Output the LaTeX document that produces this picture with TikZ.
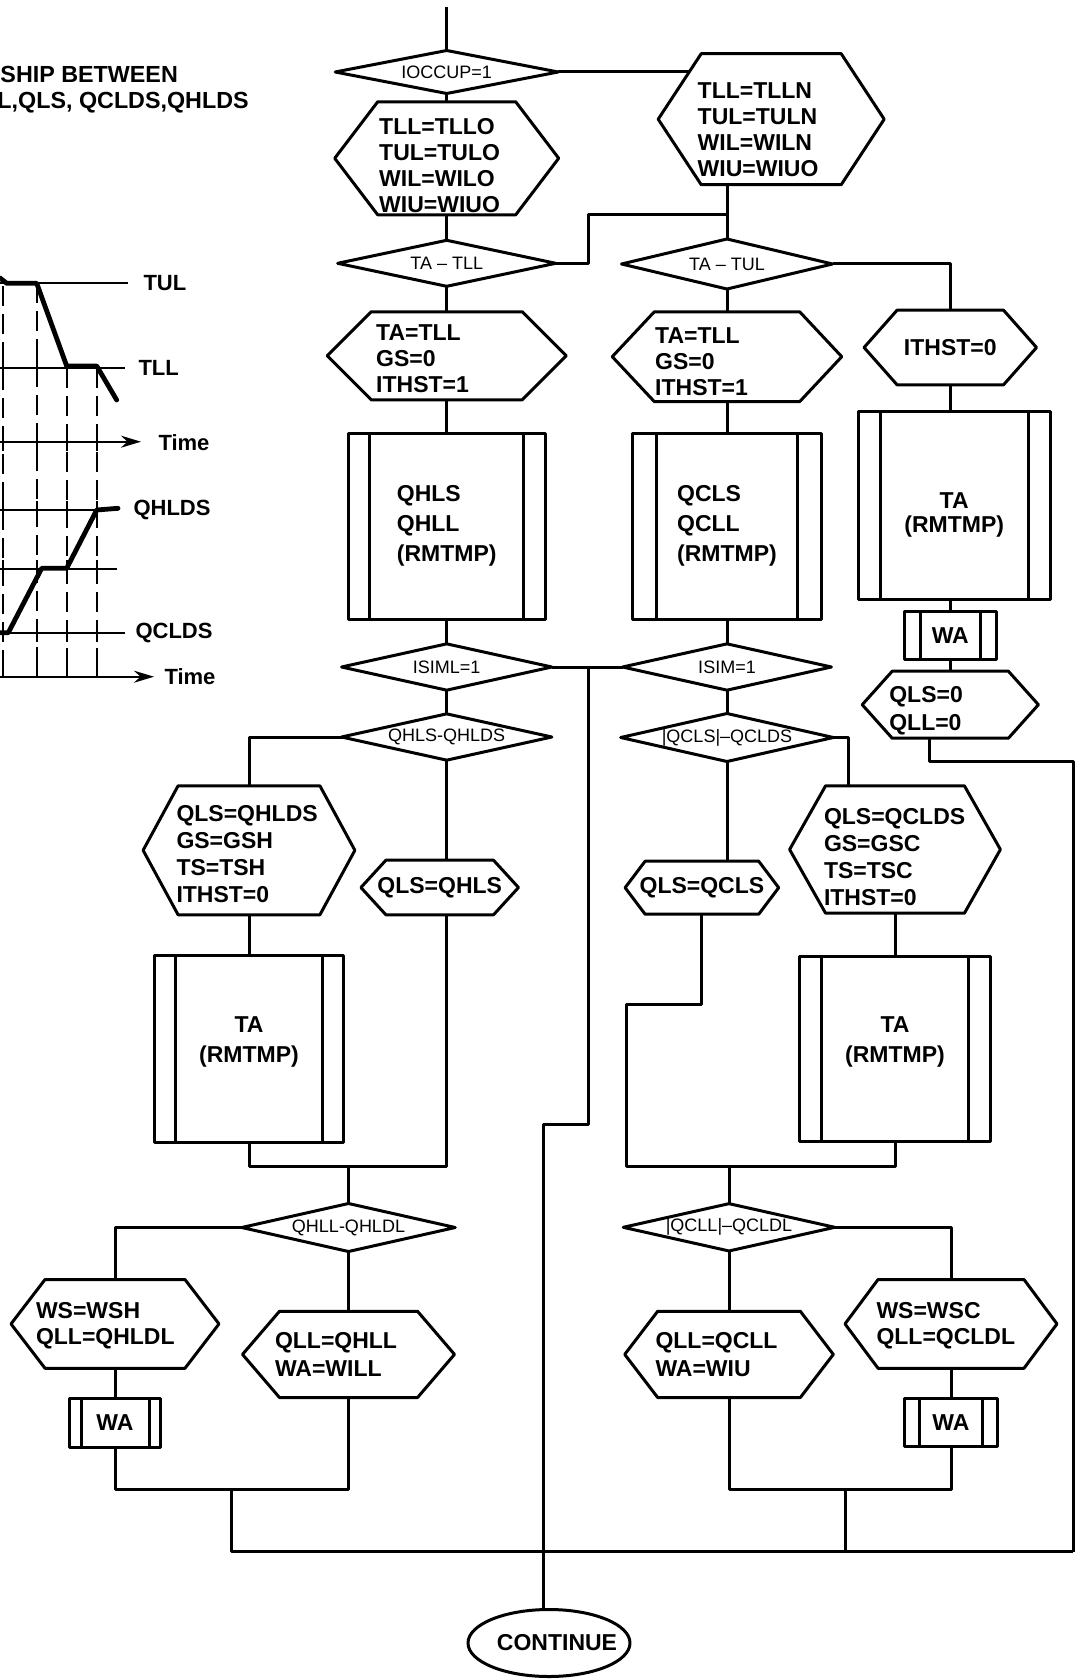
\documentclass[tikz,border=0pt]{standalone}
\usepackage{fontspec}
\setmainfont{Liberation Sans}
\usetikzlibrary{shapes.geometric,arrows.meta,calc}

% outlines drawn round invisible rectangle nodes
\newcommand{\hexline}[2]{%
  \draw (#1.west) -- ([xshift=#2pt]#1.north west) -- ([xshift=-#2pt]#1.north east)
    -- (#1.east) -- ([xshift=-#2pt]#1.south east) -- ([xshift=#2pt]#1.south west) -- cycle;}
\newcommand{\diamline}[1]{%
  \draw (#1.west) -- (#1.north) -- (#1.east) -- (#1.south) -- cycle;}
\newcommand{\subline}[2]{%
  \draw ([xshift=#2pt]#1.north west) -- ([xshift=#2pt]#1.south west);
  \draw ([xshift=-#2pt]#1.north east) -- ([xshift=-#2pt]#1.south east);}
% struts to move a text block down or up in its box
\newcommand{\hdrop}[1]{\rule{0pt}{\dimexpr16.5pt+#1pt+#1pt\relax}}
\newcommand{\hlift}[1]{\rule[\dimexpr-4.8pt-#1pt-#1pt\relax]{0pt}{0pt}}

\begin{document}
\begin{tikzpicture}[x=1pt,y=-1pt,line width=3pt,line join=round,
  hexa/.style={rectangle,inner sep=0pt,align=left,font=\fontsize{23}{26}\selectfont\bfseries},
  deci/.style={rectangle,inner sep=0pt,font=\fontsize{18}{20}\selectfont},
  subr/.style={draw,rectangle,inner sep=0pt,align=left,font=\fontsize{23}{30}\selectfont\bfseries},
  axlab/.style={anchor=west,inner sep=0pt,font=\fontsize{22}{24}\selectfont\bfseries},
  gthin/.style={line width=2.3pt},
  gthick/.style={line width=4.8pt,line cap=round},
  gdash/.style={line width=2.3pt,dash pattern=on 20pt off 8pt},
  gaxis/.style={line width=2.3pt,-{Stealth[length=20pt,width=12pt]}}]
\useasboundingbox (0,0) rectangle (1083,1680);

% title
\node[anchor=west,inner sep=0pt,font=\fontsize{23.3}{25}\selectfont\bfseries] (ttlA) at (-1,74) {SHIP BETWEEN};
\node[anchor=west,inner sep=0pt,font=\fontsize{23.3}{25}\selectfont\bfseries] (ttlB) at (-4,102.5) {L,QLS, QCLDS,QHLDS};

% graph
\draw[gthin] (0,283.3) -- (128,283.3);
\draw[gthin] (0,368) -- (125,368);
\draw[gaxis] (0,441.7) -- (141,441.7);
\draw[gthin] (0,510) -- (118,510);
\draw[gthin] (0,569) -- (117,569);
\draw[gthin] (0,632.7) -- (125,632.7);
\draw[gaxis] (0,676.7) -- (154,676.7);
\foreach \gx/\gtop in {3.3/286,36.7/283.3,66.7/368,96.7/368}
  \draw[gdash] (\gx,\gtop) -- (\gx,676.7);
\foreach \gx in {3.3,36.7,66.7,96.7}{
  \foreach \gy in {441.7,510,569,632.7}
    \draw[gthin] (\gx,\gy-9) -- (\gx,\gy+9);
  \draw[gthin] (\gx,656.7) -- (\gx,676.7);}
\foreach \gx in {3.3,36.7}
  \draw[gthin] (\gx,359) -- (\gx,377);
\draw[gthick] (0,278) -- (6.7,283.3) -- (36.7,283.3) -- (66.7,366) -- (96.7,366) -- (116.7,400);
\draw[gthick] (0,632.7) -- (8.3,632.7) -- (41.7,568.3) -- (66.7,568.3) -- (96.7,510) -- (118,508.3);
\node[axlab] (labTUL) at (142,283) {TUL};
\node[axlab] (labTLL) at (137,368) {TLL};
\node[axlab] (labTimeA) at (157,443) {Time};
\node[axlab] (labQH) at (132,510) {QHLDS};
\node[axlab] (labQC) at (134,633) {QCLDS};
\node[axlab] (labTimeB) at (163,677) {Time};

% occupancy and limits
\coordinate (start) at (446.7,6.7);
\node[deci,minimum width=220pt,minimum height=40pt] (dOcc) at (446.7,72) {IOCCUP=1};
\node[hexa,minimum width=221pt,minimum height=110pt,text width=135pt] (hOld) at (446.7,158.3) {\hdrop{7.5}TLL=TLLO\\TUL=TULO\\WIL=WILO\\WIU=WIUO};
\node[hexa,minimum width=223pt,minimum height=128pt,text width=147pt] (hNew) at (771.2,119.2) {\hdrop{10}TLL=TLLN\\TUL=TULN\\WIL=WILN\\WIU=WIUO};
\node[deci,minimum width=215pt,minimum height=43pt] (dLow) at (446.7,263.3) {TA -- TLL};
\node[deci,minimum width=208pt,minimum height=47pt] (dUp) at (727,264) {TA -- TUL};
\node[hexa,minimum width=236pt,minimum height=85pt,text width=141pt] (hLow) at (446.7,355.8) {\hdrop{3}TA=TLL\\GS=0\\ITHST=1};
\node[hexa,minimum width=226.5pt,minimum height=86.7pt,text width=143.6pt] (hMid) at (727,356.7) {\hdrop{4.5}TA=TLL\\GS=0\\ITHST=1};
\node[hexa,minimum width=169.5pt,minimum height=71.6pt,align=center] (hOff) at (950.3,347.5) {ITHST=0};

% room temperature calls
\node[subr,minimum width=197pt,minimum height=186pt] (bHeat) at (446.7,526.3) {QHLS\\QHLL\\(RMTMP)};
\node[subr,minimum width=188.3pt,minimum height=186pt] (bCool) at (727,526.3) {QCLS\\QCLL\\(RMTMP)};
\node[subr,minimum width=191.7pt,minimum height=187.6pt,align=center,font=\fontsize{23}{24}\selectfont\bfseries] (bFree) at (954.2,505.5) {\hdrop{9.4}TA\\(RMTMP)};
\node[subr,minimum width=92.2pt,minimum height=47.6pt,align=center] (bWaR) at (950.3,635.5) {WA};
\node[hexa,minimum width=173.2pt,minimum height=64pt,text width=122pt,font=\fontsize{23}{28}\selectfont\bfseries] (hZero) at (950.3,704.7) {\hdrop{6}QLS=0\\QLL=0};

% simulation and capacity tests
\node[deci,minimum width=207.3pt,minimum height=43.3pt] (dSimL) at (446.7,667) {ISIML=1};
\node[deci,minimum width=205.8pt,minimum height=43.3pt] (dSim) at (727,667) {ISIM=1};
\node[deci,minimum width=207.3pt,minimum height=43.3pt] (dHeat) at (446.7,737) {QHLS-QHLDS};
\node[deci,minimum width=209.6pt,minimum height=45pt] (dCool) at (727,737.5) {|QCLS|--QCLDS};
\node[hexa,minimum width=208.8pt,minimum height=126pt,text width=145pt,font=\fontsize{23}{27}\selectfont\bfseries] (hHeatS) at (249,850.3) {\hdrop{4}QLS=QHLDS\\GS=GSH\\TS=TSH\\ITHST=0};
\node[hexa,minimum width=154.6pt,minimum height=51.6pt,align=center] (hHeatQ) at (439.7,887.5) {QLS=QHLS};
\node[subr,minimum width=189.2pt,minimum height=186.7pt,align=center] (bHeatT) at (249,1049.3) {TA\\(RMTMP)\hlift{7.5}};
\node[hexa,minimum width=207.8pt,minimum height=124.4pt,text width=142pt,font=\fontsize{23}{27}\selectfont\bfseries] (hCoolS) at (895,849.5) {\hdrop{7.5}QLS=QCLDS\\GS=GSC\\TS=TSC\\ITHST=0};
\node[hexa,minimum width=150.6pt,minimum height=50pt,align=center] (hCoolQ) at (701.9,887.7) {QLS=QCLS};
\node[subr,minimum width=190.2pt,minimum height=185.7pt,align=center] (bCoolT) at (895,1048.9) {TA\\(RMTMP)\hlift{7}};

% latent load
\node[deci,minimum width=210.5pt,minimum height=45pt] (dHeatL) at (348.5,1227.5) {QHLL-QHLDL};
\node[deci,minimum width=208.5pt,minimum height=44.3pt] (dCoolL) at (729,1227.3) {|QCLL|--QCLDL};
\node[hexa,minimum width=205pt,minimum height=85.7pt,text width=158pt] (hHeatW) at (115,1323.9) {\hdrop{1.5}WS=WSH\\QLL=QHLDL};
\node[hexa,minimum width=209pt,minimum height=83.3pt,text width=147pt,font=\fontsize{23}{28}\selectfont\bfseries] (hHeatA) at (348.5,1354.4) {QLL=QHLL\\WA=WILL};
\node[hexa,minimum width=205.6pt,minimum height=83.3pt,text width=147pt,font=\fontsize{23}{28}\selectfont\bfseries] (hCoolA) at (729,1354.4) {QLL=QCLL\\WA=WIU};
\node[hexa,minimum width=209pt,minimum height=85.7pt,text width=149pt] (hCoolW) at (951,1323.9) {\hdrop{2}WS=WSC\\QLL=QCLDL};
\node[subr,minimum width=91pt,minimum height=49pt,align=center] (bWaH) at (115,1422.8) {WA};
\node[subr,minimum width=93pt,minimum height=48.4pt,align=center] (bWaC) at (951,1422.5) {WA};
\node[draw,ellipse,inner xsep=-14pt,inner ysep=0pt,minimum width=162pt,minimum height=67pt,font=\fontsize{23}{25}\selectfont\bfseries] (eCont) at (549,1643) {\hspace*{16pt}CONTINUE};

% outlines
\foreach \n/\k in {hOld/43,hNew/43,hLow/44,hMid/42,hOff/33,hZero/30,hHeatS/35,hHeatQ/25,
  hCoolS/36,hCoolQ/20,hHeatW/34,hHeatA/37,hCoolA/33,hCoolW/33}
  \hexline{\n}{\k};
\foreach \n in {dOcc,dLow,dUp,dSimL,dSim,dHeat,dCool,dHeatL,dCoolL}
  \diamline{\n};
\foreach \n/\k in {bHeat/23,bCool/25.5,bFree/23.5,bWaR/17.5,bHeatT/22.5,bCoolT/23.5,bWaH/13,bWaC/16.5}
  \subline{\n}{\k};

% connectors
\draw (start) -- (dOcc.north);
\draw (dOcc.south) -- (hOld.north);
\coordinate (hNewIn) at ($(hNew.west)!0.735!([xshift=43pt]hNew.north west)$);
\draw (dOcc.east) -- (dOcc.east -| hNewIn);
\draw (hOld.south) -- (dLow.north);
\draw (dUp.north |- hNew.south) -- (dUp.north);
\coordinate (kUp) at (588.5,215);
\draw (dLow.east) -| (kUp) -- (kUp -| dUp.north);
\draw (dLow.south) -- (hLow.north);
\draw (dUp.south) -- (hMid.north);
\draw (dUp.east) -| (hOff.north);
\draw (hLow.south) -- (bHeat.north);
\draw (hMid.south) -- (bCool.north);
\draw (hOff.south) -- (hOff.south |- bFree.north);
\draw (hOff.south |- bFree.south) -- (bWaR.north);
\draw (bWaR.south) -- (hZero.north);
\coordinate (rTop) at (1073,761.7);
\coordinate (rBot) at (1073,1551.7);
\draw ([xshift=-21pt]hZero.south) |- (rTop) -- (rBot);
\draw (bHeat.south) -- (dSimL.north);
\draw (bCool.south) -- (dSim.north);
\coordinate (jSim) at (588.6,667);
\coordinate (kSim) at (588.6,1124);
\draw (dSimL.east) -- (dSim.west);
\draw (jSim) -- (kSim) -| ([xshift=-6pt]eCont.north);
\draw (dSimL.south) -- (dHeat.north);
\draw (dSim.south) -- (dCool.north);
\draw (dHeat.west) -| (hHeatS.north);
\draw (dHeat.south) -- (dHeat.south |- hHeatQ.north);
\draw (hHeatS.south) -- (bHeatT.north);
\coordinate (mHeat) at (348.5,1166.7);
\draw (bHeatT.south) |- (mHeat) -| (dHeat.south |- hHeatQ.south);
\draw (mHeat) -- (dHeatL.north);
\draw (dCool.east) -| ([xshift=-47pt]hCoolS.north);
\draw (dCool.south) -- (dCool.south |- hCoolQ.north);
\coordinate (kCool) at (626.6,1004);
\coordinate (mCool) at (729,1166.7);
\draw (hCoolQ.south) |- (kCool) |- (mCool) -| (bCoolT.south);
\draw (mCool) -- (dCoolL.north);
\draw (hCoolS.south) -- (bCoolT.north);
\draw (dHeatL.west) -| (hHeatW.north);
\draw (dHeatL.south) -- (hHeatA.north);
\draw (hHeatW.south) -- (bWaH.north);
\coordinate (mHeatB) at (231,1489.3);
\draw (bWaH.south) |- (mHeatB) -| (hHeatA.south);
\coordinate (bLeft) at (231,1551.7);
\draw (mHeatB) -- (bLeft) -- (rBot);
\draw (dCoolL.east) -| (hCoolW.north);
\draw (dCoolL.south) -- (hCoolA.north);
\draw (hCoolW.south) -- (bWaC.north);
\coordinate (mCoolB) at (845,1489.3);
\draw (hCoolA.south) |- (mCoolB) -| (bWaC.south);
\draw (mCoolB) -- (mCoolB |- bLeft);

\end{tikzpicture}
\end{document}
